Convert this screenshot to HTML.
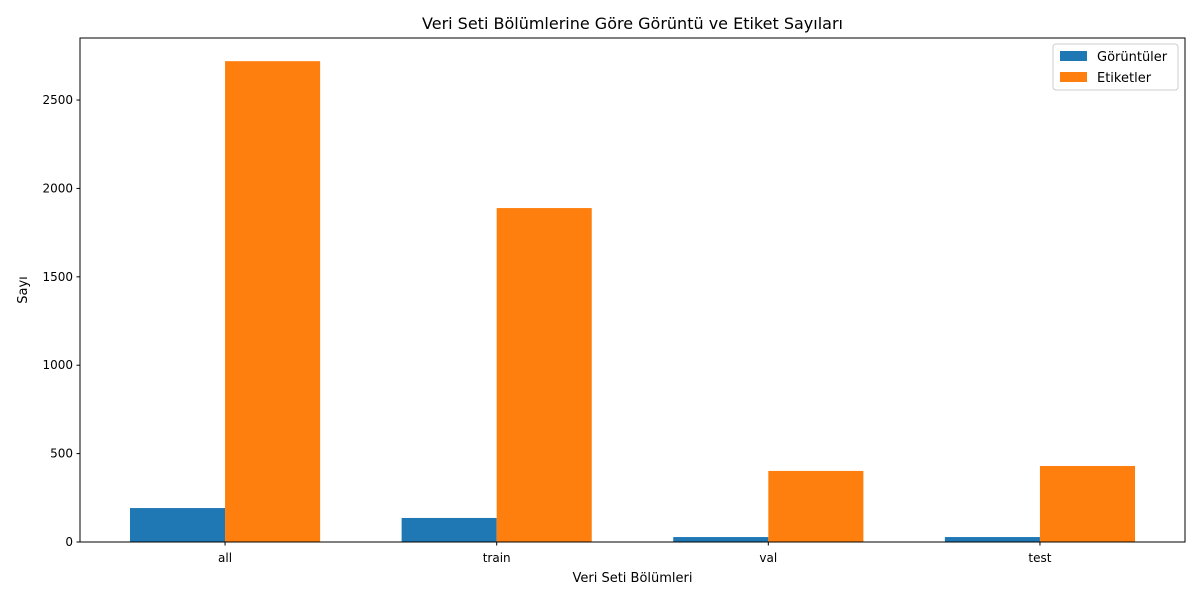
<!DOCTYPE html>
<html><head><meta charset="utf-8"><style>
body{margin:0;background:#fff;font-family:"Liberation Sans","DejaVu Sans",sans-serif;}
svg text{font-family:"DejaVu Sans","Liberation Sans",sans-serif;fill:#000;}
</style></head><body>
<svg id="chart" width="1200" height="600"></svg>
<script>
const categories=["all","train","val","test"];
const imageCounts=[192,136,28,28];
const labelCounts=[2720,1889,402,430];
const yTicks=[0,500,1000,1500,2000,2500];
const seriesNames=["Görüntüler","Etiketler"];
const colors=["#1f77b4","#ff7f0e"];

const L=80,R=1185,T=38,B=542;
const ns="http://www.w3.org/2000/svg";
const svg=document.getElementById("chart");
const xmin=-0.534,xmax=3.534,ymax=2851;
const xs=v=>L+(v-xmin)/(xmax-xmin)*(R-L);
const ys=v=>B-v/ymax*(B-T);
function mk(t,a,p){const e=document.createElementNS(ns,t);for(const k in a)e.setAttribute(k,a[k]);(p||svg).appendChild(e);return e;}
const bw=0.35;
[imageCounts,labelCounts].forEach((arr,si)=>{
  arr.forEach((v,i)=>{
    const x0=xs(i+(si===0?-bw:0)),x1=xs(i+(si===0?0:bw));
    const r=mk("rect",{x:x0,y:ys(v),width:x1-x0,height:B-ys(v),fill:colors[si]});
    
    
  });
});
mk("rect",{x:L,y:T,width:R-L,height:B-T,fill:"none",stroke:"#000","stroke-width":1});
yTicks.forEach(v=>{
  const y=ys(v);
  mk("line",{x1:L-3.5,x2:L,y1:y,y2:y,stroke:"#000"});
  const t=mk("text",{x:L-7,y:y+4,"text-anchor":"end","font-size":12});t.textContent=v;
  
  
});
categories.forEach((c,i)=>{
  const x=xs(i);
  mk("line",{x1:x,x2:x,y1:B,y2:B+3.5,stroke:"#000"});
  const t=mk("text",{x:x,y:B+20,"text-anchor":"middle","font-size":12});t.textContent=c;
  
  
});
let t=mk("text",{x:(L+R)/2,y:582,"text-anchor":"middle","font-size":13});t.textContent="Veri Seti Bölümleri";

t=mk("text",{x:27,y:(T+B)/2,"text-anchor":"middle","font-size":13,transform:`rotate(-90 27 ${(T+B)/2})`});t.textContent="Sayı";

t=mk("text",{x:(L+R)/2,y:29,"text-anchor":"middle","font-size":16});t.textContent="Veri Seti Bölümlerine Göre Görüntü ve Etiket Sayıları";

const lg=mk("g",{});

mk("rect",{x:1053,y:44,width:125,height:46,rx:3,fill:"#fff",stroke:"#ccc"},lg);
seriesNames.forEach((n,i)=>{
  const y=51+i*21;
  const r=mk("rect",{x:1060,y:y,width:27,height:10,fill:colors[i]},lg);
  
  const tt=mk("text",{x:1097,y:y+10,"font-size":13},lg);tt.textContent=n;
  
});
</script>
</body></html>
